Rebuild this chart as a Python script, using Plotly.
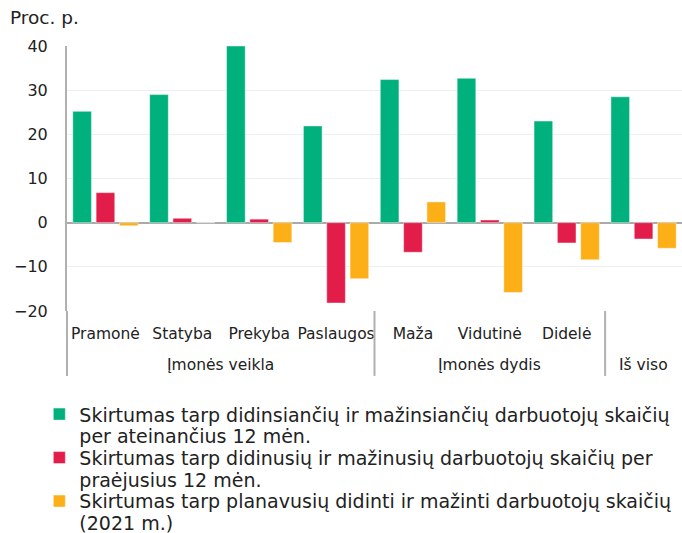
import plotly.graph_objects as go

groups = ["Įmonės veikla"] * 4 + ["Įmonės dydis"] * 3 + ["Iš viso"]
categories = ["Pramonė", "Statyba", "Prekyba", "Paslaugos", "Maža", "Vidutinė", "Didelė", " "]

series_lines = [
    ["Skirtumas tarp didinsiančių ir mažinsiančių darbuotojų skaičių", "per ateinančius 12 mėn."],
    ["Skirtumas tarp didinusių ir mažinusių darbuotojų skaičių per", "praėjusius 12 mėn."],
    ["Skirtumas tarp planavusių didinti ir mažinti darbuotojų skaičių", "(2021 m.)"],
]
next_12m = [25.2, 29.0, 40.0, 21.9, 32.4, 32.7, 23.0, 28.5]
past_12m = [6.8, 1.0, 0.8, -18.2, -6.7, 0.6, -4.6, -3.7]
planned_2021 = [-0.7, 0.0, -4.5, -12.7, 4.7, -15.8, -8.4, -5.8]
colors = ["#00b07d", "#e31d4a", "#fdaf18"]

y_ticks = [-20, -10, 0, 10, 20, 30, 40]

FONT = "Verdana, DejaVu Sans, sans-serif"
TXT = "#222222"
DIV = "#b0b0b0"

# one legend per text line so that line spacing matches the reference
legend_y = [-0.318, -0.400, -0.482, -0.564, -0.646, -0.728]

fig = go.Figure()
for i, (lines, vals, col) in enumerate(zip(series_lines, [next_12m, past_12m, planned_2021], colors)):
    lg1 = "legend" if i == 0 else f"legend{2 * i + 1}"
    lg2 = f"legend{2 * i + 2}"
    fig.add_trace(go.Bar(
        x=categories, y=vals, name=lines[0], legend=lg1,
        marker=dict(color=col, line=dict(color="rgba(255,255,255,0.45)", width=1)),
    ))
    fig.add_trace(go.Scatter(
        x=[None], y=[None], mode="markers", name=lines[1], legend=lg2,
        marker=dict(opacity=0, color="rgba(0,0,0,0)"), hoverinfo="skip",
    ))

legend_common = dict(
    orientation="v", x=-0.045, xanchor="left", yanchor="top",
    font=dict(family=FONT, size=19, color=TXT),
    valign="middle", itemwidth=30, bgcolor="rgba(0,0,0,0)",
)
legends = {}
for k, yv in enumerate(legend_y):
    key = "legend" if k == 0 else f"legend{k + 1}"
    legends[key] = dict(legend_common, y=yv)

# group labels and dividers, derived from the groups list
n = len(categories)
annotations = [dict(
    text="Proc. p.", xref="paper", yref="paper",
    x=-0.096, y=1.106, xanchor="left", yanchor="middle",
    showarrow=False, font=dict(family=FONT, size=18.5, color=TXT),
)]
shapes = []
start = 0
for idx in range(1, n + 1):
    if idx == n or groups[idx] != groups[start]:
        annotations.append(dict(
            text=groups[start], xref="x", yref="paper",
            x=(start + idx - 1) / 2, y=-0.204, xanchor="center", yanchor="middle",
            showarrow=False, font=dict(family=FONT, size=15.5, color=TXT),
        ))
        if start > 0:
            shapes.append(dict(type="line", xref="paper", yref="paper",
                               x0=start / n, x1=start / n, y0=0, y1=-0.245,
                               line=dict(color=DIV, width=2)))
        start = idx
shapes.append(dict(type="line", xref="paper", yref="paper",
                   x0=0, x1=0, y0=0, y1=-0.245, line=dict(color=DIV, width=2)))

fig.update_layout(
    width=682, height=533,
    margin=dict(l=67, r=0, t=46, b=222, autoexpand=False),
    plot_bgcolor="white", paper_bgcolor="white",
    font=dict(family=FONT, size=16, color=TXT),
    barmode="group", bargap=0.09, bargroupgap=0.2,
    showlegend=True,
    annotations=annotations, shapes=shapes,
    **legends,
)
fig.update_yaxes(
    range=[-20, 40], tickvals=y_ticks, showgrid=True, gridcolor="#efefef", gridwidth=1,
    zeroline=True, zerolinecolor="#aaaaaa", zerolinewidth=2,
    showline=True, linecolor=DIV, linewidth=2, ticks="", ticklabelstandoff=14,
    tickfont=dict(family=FONT, size=16, color=TXT),
)
fig.update_xaxes(
    type="category", showgrid=False, showline=False, ticks="", tickangle=0,
    ticklabelstandoff=11,
    tickfont=dict(family=FONT, size=15.5, color=TXT),
)

fig.write_html("out.html", config={"displayModeBar": False},
               post_script="document.body.style.margin='0';")
